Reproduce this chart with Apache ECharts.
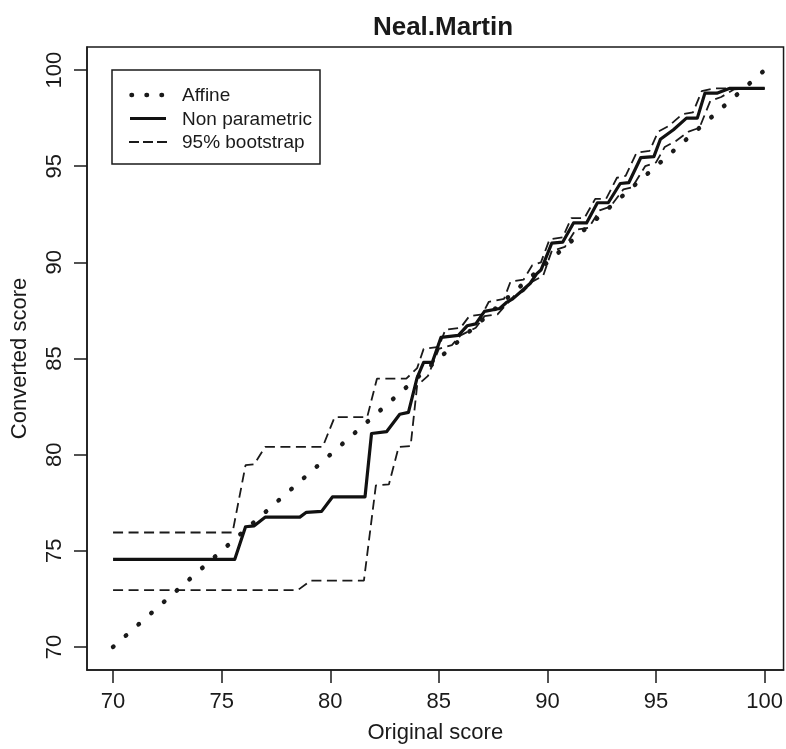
<!DOCTYPE html>
<html>
<head>
<meta charset="utf-8">
<script src="https://cdn.jsdelivr.net/npm/echarts@6/dist/echarts.min.js"></script>
<style>html,body{margin:0;padding:0;background:#fff}#c{width:786px;height:749px}</style>
</head>
<body>
<div id="c"></div>
<script>
var titleText = 'Neal.Martin';
var xName = 'Original score';
var yName = 'Converted score';
var tickValues = [70, 75, 80, 85, 90, 95, 100];
var legendNames = ['Affine', 'Non parametric', '95% bootstrap'];

var affine = [[70, 70], [100, 100]];

var nonParametric = [
  [70, 74.55], [75.6, 74.55], [76.1, 76.25], [76.5, 76.3], [77.0, 76.75], [78.6, 76.75],
  [78.9, 77.0], [79.6, 77.05], [80.1, 77.8], [81.6, 77.8], [81.9, 81.1], [82.6, 81.2],
  [83.2, 82.1], [83.6, 82.2], [84.0, 84.0], [84.3, 84.8], [84.7, 84.8], [85.1, 86.1],
  [85.9, 86.2], [86.3, 86.7], [86.7, 86.8], [87.1, 87.45], [87.8, 87.6], [88.1, 87.9],
  [88.4, 88.1], [88.8, 88.5], [89.2, 88.9], [89.5, 89.4], [89.7, 89.6], [90.2, 91.0],
  [90.7, 91.05], [91.2, 92.05], [91.8, 92.05], [92.3, 93.1], [92.8, 93.1], [93.35, 94.1],
  [93.75, 94.15], [94.3, 95.45], [94.9, 95.5], [95.2, 96.4], [95.8, 96.9], [96.4, 97.5],
  [96.9, 97.5], [97.25, 98.8], [97.8, 98.8], [98.4, 99.05], [100, 99.05]
];

var bootUpper = [
  [70, 75.95], [75.5, 75.95], [76.1, 79.45], [76.5, 79.5], [77.0, 80.4], [79.65, 80.4],
  [80.2, 81.95], [81.7, 81.95], [82.15, 83.95], [83.5, 83.95], [84.0, 84.5], [84.3, 85.5],
  [85.0, 85.6], [85.3, 86.5], [86.0, 86.6], [86.4, 87.2], [87.0, 87.3], [87.3, 87.95],
  [88.0, 88.1], [88.3, 89.0], [88.9, 89.1], [89.3, 89.85], [89.7, 90.0], [90.1, 91.2],
  [90.7, 91.3], [91.1, 92.3], [91.7, 92.3], [92.2, 93.3], [92.7, 93.3], [93.2, 94.4],
  [93.6, 94.5], [94.1, 95.7], [94.7, 95.8], [95.1, 96.8], [95.6, 97.1], [96.2, 97.7],
  [96.7, 97.8], [97.1, 98.9], [97.7, 99.05], [100, 99.05]
];

var bootLower = [
  [70, 72.95], [78.5, 72.95], [79.1, 73.45], [81.55, 73.45], [82.1, 78.4], [82.7, 78.45],
  [83.15, 80.4], [83.7, 80.45], [84.0, 83.6], [84.5, 84.1], [85.0, 85.5], [85.6, 85.7],
  [86.0, 86.2], [86.7, 86.6], [87.1, 87.2], [87.7, 87.3], [88.1, 87.8], [88.5, 88.3],
  [88.9, 88.5], [89.3, 89.0], [89.8, 89.3], [90.2, 90.6], [90.8, 90.8], [91.3, 91.7],
  [91.9, 91.8], [92.4, 92.7], [92.9, 92.9], [93.5, 93.8], [93.9, 93.9], [94.5, 95.0],
  [95.0, 95.2], [95.4, 96.0], [95.9, 96.3], [96.5, 96.8], [97.0, 97.0], [97.5, 98.4],
  [98.0, 98.6], [98.6, 99.0], [100, 99.05]
];

var FONT = '"Liberation Sans", Arial, Helvetica, sans-serif';
var INK = '#1a1a1a';

var chart = echarts.init(document.getElementById('c'), null, {renderer: 'canvas'});

function lineSeries(name, data, style) {
  return {
    name: name, type: 'line', data: data, showSymbol: false, symbol: 'none',
    animation: false, silent: true, clip: true,
    lineStyle: style
  };
}

var axisCommon = {
  type: 'value',
  min: 68.8,
  splitLine: {show: false},
  axisLine: {show: true, lineStyle: {color: INK, width: 1.5}},
  axisTick: {show: true, length: 13, inside: false, customValues: tickValues, lineStyle: {color: INK, width: 1.5}},
  nameTextStyle: {fontFamily: FONT, fontSize: 22, color: INK}
};

var option = {
  backgroundColor: '#fff',
  animation: false,
  title: {
    text: titleText, left: 438, top: 10, textAlign: 'center',
    textStyle: {fontFamily: FONT, fontSize: 26, fontWeight: 'bold', color: INK}
  },
  grid: {left: 87, top: 47, width: 700, height: 629, show: true, borderColor: INK, borderWidth: 1.5, backgroundColor: 'transparent'},
  xAxis: Object.assign({}, axisCommon, {
    max: 100.87,
    name: xName, nameLocation: 'middle', nameGap: 52,
    axisLabel: {customValues: tickValues, margin: 21, fontFamily: FONT, fontSize: 22, color: INK}
  }),
  yAxis: Object.assign({}, axisCommon, {
    max: 101.2,
    name: yName, nameLocation: 'middle', nameGap: 56,
    axisLabel: {customValues: tickValues, rotate: 90, margin: 21, fontFamily: FONT, fontSize: 22, color: INK}
  }),
  series: [
    lineSeries(legendNames[2], bootUpper, {color: INK, width: 1.8, type: [10, 5.5]}),
    lineSeries(legendNames[2], bootLower, {color: INK, width: 1.8, type: [10, 5.5]}),
    lineSeries(legendNames[0], affine, {color: INK, width: 4.5, type: [0.5, 16.5], cap: 'round'}),
    lineSeries(legendNames[1], nonParametric, {color: '#111', width: 3.2, join: 'round'})
  ],
  graphic: [
    {type: 'rect', shape: {x: 112, y: 70, width: 208, height: 94}, style: {fill: '#fff', stroke: INK, lineWidth: 1.5}, z: 100},
    {type: 'line', shape: {x1: 131.5, y1: 95, x2: 166, y2: 95}, style: {stroke: INK, lineWidth: 4.5, lineDash: [0.5, 14.5], lineCap: 'round'}, z: 101},
    {type: 'line', shape: {x1: 130, y1: 118.5, x2: 166, y2: 118.5}, style: {stroke: '#111', lineWidth: 3.2}, z: 101},
    {type: 'line', shape: {x1: 129, y1: 142, x2: 167, y2: 142}, style: {stroke: INK, lineWidth: 1.8, lineDash: [10, 4]}, z: 101},
    {type: 'text', x: 182, y: 96, style: {text: legendNames[0], fontFamily: FONT, fontSize: 19, fill: INK, textVerticalAlign: 'middle'}, z: 101},
    {type: 'text', x: 182, y: 119.5, style: {text: legendNames[1], fontFamily: FONT, fontSize: 19, fill: INK, textVerticalAlign: 'middle'}, z: 101},
    {type: 'text', x: 182, y: 143, style: {text: legendNames[2], fontFamily: FONT, fontSize: 19, fill: INK, textVerticalAlign: 'middle'}, z: 101}
  ]
};
chart.setOption(option);
</script>
</body>
</html>
